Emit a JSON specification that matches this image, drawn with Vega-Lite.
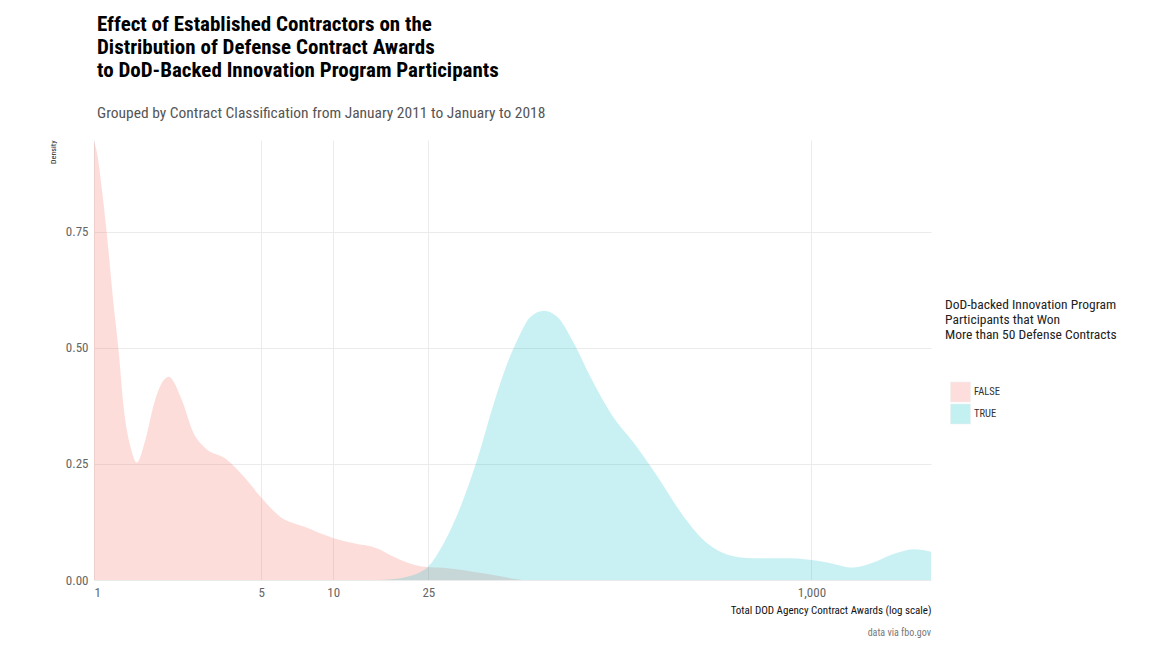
{
  "$schema": "https://vega.github.io/schema/vega-lite/v6.json",
  "background": "white",
  "padding": {"left": 49, "top": 13, "right": 5, "bottom": 5},
  "title": {
    "text": ["Effect of Established Contractors on the", "Distribution of Defense Contract Awards", "to DoD-Backed Innovation Program Participants"],
    "subtitle": "Grouped by Contract Classification from January 2011 to January to 2018",
    "anchor": "start",
    "frame": "group",
    "dx": 3,
    "offset": 19,
    "font": "Roboto Condensed, Liberation Sans Narrow, DejaVu Sans Condensed, Roboto",
    "fontSize": 21,
    "fontWeight": "bold",
    "color": "#000000",
    "lineHeight": 23,
    "subtitleFont": "Roboto Condensed, Liberation Sans Narrow, DejaVu Sans Condensed, Roboto",
    "subtitleFontSize": 15.5,
    "subtitleColor": "#555555",
    "subtitlePadding": 25
  },
  "resolve": {"legend": {"color": "independent"}},
  "vconcat": [
    {
      "title": {
        "text": "data via fbo.gov",
        "orient": "bottom",
        "anchor": "end",
        "frame": "group",
        "font": "Roboto Condensed, Liberation Sans Narrow, DejaVu Sans Condensed, Roboto",
        "fontSize": 10,
        "fontWeight": "normal",
        "color": "#777777",
        "offset": 13
      },
      "width": 837,
      "height": 440,
      "data": {
        "values": [
          {"award": 1.0, "density": 0.945, "won": "FALSE"},
          {"award": 1.03, "density": 0.92, "won": "FALSE"},
          {"award": 1.08, "density": 0.84, "won": "FALSE"},
          {"award": 1.13, "density": 0.748, "won": "FALSE"},
          {"award": 1.21, "density": 0.589, "won": "FALSE"},
          {"award": 1.27, "density": 0.489, "won": "FALSE"},
          {"award": 1.33, "density": 0.373, "won": "FALSE"},
          {"award": 1.42, "density": 0.287, "won": "FALSE"},
          {"award": 1.51, "density": 0.253, "won": "FALSE"},
          {"award": 1.64, "density": 0.302, "won": "FALSE"},
          {"award": 1.80, "density": 0.388, "won": "FALSE"},
          {"award": 2.05, "density": 0.438, "won": "FALSE"},
          {"award": 2.33, "density": 0.388, "won": "FALSE"},
          {"award": 2.61, "density": 0.316, "won": "FALSE"},
          {"award": 2.88, "density": 0.287, "won": "FALSE"},
          {"award": 3.60, "density": 0.259, "won": "FALSE"},
          {"award": 4.23, "density": 0.223, "won": "FALSE"},
          {"award": 4.96, "density": 0.180, "won": "FALSE"},
          {"award": 6.02, "density": 0.136, "won": "FALSE"},
          {"award": 7.55, "density": 0.115, "won": "FALSE"},
          {"award": 10.06, "density": 0.090, "won": "FALSE"},
          {"award": 12.2, "density": 0.079, "won": "FALSE"},
          {"award": 15.3, "density": 0.068, "won": "FALSE"},
          {"award": 17.9, "density": 0.050, "won": "FALSE"},
          {"award": 23.5, "density": 0.029, "won": "FALSE"},
          {"award": 30.7, "density": 0.025, "won": "FALSE"},
          {"award": 43, "density": 0.014, "won": "FALSE"},
          {"award": 55, "density": 0.004, "won": "FALSE"},
          {"award": 62, "density": 0.0, "won": "FALSE"},
          {"award": 15, "density": 0.0, "won": "TRUE"},
          {"award": 18, "density": 0.002, "won": "TRUE"},
          {"award": 20.4, "density": 0.007, "won": "TRUE"},
          {"award": 22.5, "density": 0.014, "won": "TRUE"},
          {"award": 25, "density": 0.029, "won": "TRUE"},
          {"award": 29.0, "density": 0.079, "won": "TRUE"},
          {"award": 34.1, "density": 0.158, "won": "TRUE"},
          {"award": 40.0, "density": 0.259, "won": "TRUE"},
          {"award": 47.0, "density": 0.381, "won": "TRUE"},
          {"award": 53.5, "density": 0.467, "won": "TRUE"},
          {"award": 58.9, "density": 0.517, "won": "TRUE"},
          {"award": 66.9, "density": 0.567, "won": "TRUE"},
          {"award": 76.1, "density": 0.580, "won": "TRUE"},
          {"award": 86.5, "density": 0.567, "won": "TRUE"},
          {"award": 101.6, "density": 0.510, "won": "TRUE"},
          {"award": 119, "density": 0.438, "won": "TRUE"},
          {"award": 145, "density": 0.359, "won": "TRUE"},
          {"award": 181, "density": 0.295, "won": "TRUE"},
          {"award": 227, "density": 0.223, "won": "TRUE"},
          {"award": 293, "density": 0.136, "won": "TRUE"},
          {"award": 367, "density": 0.079, "won": "TRUE"},
          {"award": 450, "density": 0.054, "won": "TRUE"},
          {"award": 571, "density": 0.047, "won": "TRUE"},
          {"award": 806, "density": 0.047, "won": "TRUE"},
          {"award": 1137, "density": 0.039, "won": "TRUE"},
          {"award": 1497, "density": 0.027, "won": "TRUE"},
          {"award": 1778, "density": 0.036, "won": "TRUE"},
          {"award": 2264, "density": 0.058, "won": "TRUE"},
          {"award": 2689, "density": 0.066, "won": "TRUE"},
          {"award": 3162, "density": 0.061, "won": "TRUE"}
        ]
      },
      "mark": {"type": "area", "interpolate": "monotone", "clip": true},
      "encoding": {
        "x": {
          "field": "award",
          "type": "quantitative",
          "scale": {"type": "log", "domain": [1, 3162], "nice": false},
          "axis": {
            "title": "Total DOD Agency Contract Awards (log scale)",
            "values": [1, 5, 10, 25, 1000],
            "format": ",",
            "titleAnchor": "end",
            "titleFont": "Roboto Condensed, Liberation Sans Narrow, DejaVu Sans Condensed, Roboto",
            "titleFontSize": 11,
            "titleFontWeight": "normal",
            "titleColor": "#111111",
            "titlePadding": 5,
            "labelFont": "Roboto Condensed, Liberation Sans Narrow, DejaVu Sans Condensed, Roboto",
            "labelFontSize": 13,
            "labelColor": "#666666",
            "labelPadding": 6,
            "ticks": false,
            "domain": false,
            "grid": true,
            "gridColor": "#ebebeb",
            "gridWidth": 1
          }
        },
        "y": {
          "field": "density",
          "type": "quantitative",
          "stack": null,
          "scale": {"domain": [0, 0.948], "nice": false},
          "axis": {
            "title": "Density",
            "values": [0, 0.25, 0.5, 0.75],
            "format": ".2f",
            "titleAnchor": "end",
            "titleFont": "Roboto Condensed, Liberation Sans Narrow, DejaVu Sans Condensed, Roboto",
            "titleFontSize": 8,
            "titleFontWeight": "normal",
            "titleColor": "#222222",
            "titlePadding": 8,
            "labelFont": "Roboto Condensed, Liberation Sans Narrow, DejaVu Sans Condensed, Roboto",
            "labelFontSize": 13,
            "labelColor": "#666666",
            "labelPadding": 6,
            "ticks": false,
            "domain": false,
            "grid": true,
            "gridColor": "#ebebeb",
            "gridWidth": 1
          }
        },
        "fillOpacity": {
          "field": "won",
          "type": "nominal",
          "scale": {"domain": ["FALSE", "TRUE"], "range": [0.25, 0.21]},
          "legend": null
        },
        "color": {
          "field": "won",
          "type": "nominal",
          "scale": {"domain": ["FALSE", "TRUE"], "range": ["#F8766D", "#00BFC4"]},
          "legend": {
            "title": ["DoD-backed Innovation Program", "Participants that Won", "More than 50 Defense Contracts"],
            "orient": "none",
            "legendX": 851,
            "legendY": 158,
            "titleFont": "Roboto Condensed, Liberation Sans Narrow, DejaVu Sans Condensed, Roboto",
            "titleFontSize": 13.5,
            "titleFontWeight": "normal",
            "titleColor": "#222222",
            "titleLineHeight": 15,
            "titleLimit": 400,
            "titlePadding": 40,
            "labelFont": "Roboto Condensed, Liberation Sans Narrow, DejaVu Sans Condensed, Roboto",
            "labelFontSize": 10.5,
            "labelColor": "#333333",
            "labelOffset": 3,
            "symbolType": "square",
            "symbolSize": 400,
            "symbolOffset": 5,
            "symbolOpacity": 0.23,
            "symbolStrokeColor": "#bbbbbb",
            "symbolStrokeWidth": 0.5,
            "rowPadding": -4,
            "offset": 0
          }
        }
      }
    }
  ],
  "config": {"view": {"stroke": null}}
}
